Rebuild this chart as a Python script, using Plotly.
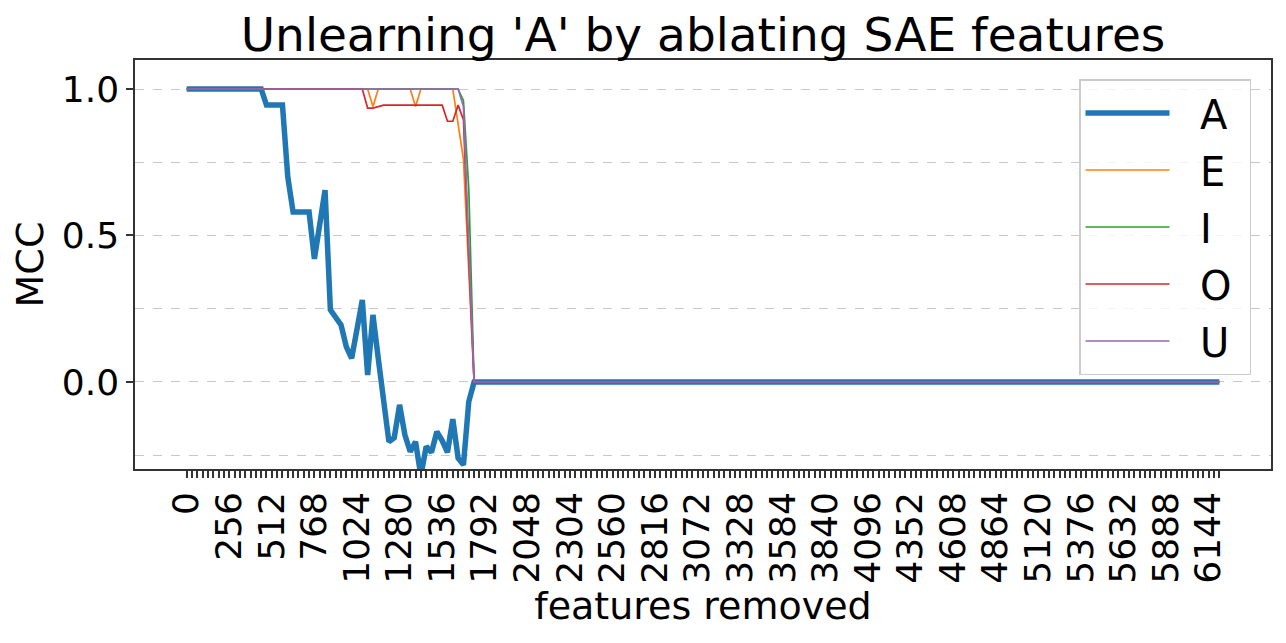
import plotly.graph_objects as go

# features removed (sampled every 32, last point is the end of the run)
features = [0, 32, 64, 96, 128, 160, 192, 224, 256, 288, 320, 352, 384, 416, 448,
            480, 512, 544, 576, 608, 640, 672, 704, 736, 768, 800, 832, 864, 896, 928,
            960, 992, 1024, 1056, 1088, 1120, 1152, 1184, 1216, 1248, 1280, 1312, 1344,
            1376, 1408, 1440, 1472, 1504, 1536, 1568, 1600, 1632, 1664, 1696, 1728, 6208]

mcc_a = [1.0, 1.0, 1.0, 1.0, 1.0, 1.0, 1.0, 1.0, 1.0, 1.0, 1.0, 1.0, 1.0, 1.0, 1.0,
         0.945, 0.945, 0.945, 0.945, 0.70, 0.58, 0.58, 0.58, 0.58, 0.42, 0.54, 0.655, 0.246, 0.22, 0.195,
         0.12, 0.081, 0.18, 0.28, 0.024, 0.229, 0.08, -0.065, -0.204, -0.19, -0.078, -0.18, -0.238,
         -0.204, -0.32, -0.22, -0.24, -0.17, -0.2, -0.24, -0.127, -0.26, -0.283, -0.067, 0.0, 0.0]

mcc_e = [1.0, 1.0, 1.0, 1.0, 1.0, 1.0, 1.0, 1.0, 1.0, 1.0, 1.0, 1.0, 1.0, 1.0, 1.0,
         1.0, 1.0, 1.0, 1.0, 1.0, 1.0, 1.0, 1.0, 1.0, 1.0, 1.0, 1.0, 1.0, 1.0, 1.0,
         1.0, 1.0, 1.0, 1.0, 1.0, 0.94, 1.0, 1.0, 1.0, 1.0, 1.0, 1.0, 1.0,
         0.94, 1.0, 1.0, 1.0, 1.0, 1.0, 1.0, 1.0, 0.88, 0.76, 0.38, 0.0, 0.0]

mcc_i = [1.0, 1.0, 1.0, 1.0, 1.0, 1.0, 1.0, 1.0, 1.0, 1.0, 1.0, 1.0, 1.0, 1.0, 1.0,
         1.0, 1.0, 1.0, 1.0, 1.0, 1.0, 1.0, 1.0, 1.0, 1.0, 1.0, 1.0, 1.0, 1.0, 1.0,
         1.0, 1.0, 1.0, 1.0, 1.0, 1.0, 1.0, 1.0, 1.0, 1.0, 1.0, 1.0, 1.0,
         1.0, 1.0, 1.0, 1.0, 1.0, 1.0, 1.0, 1.0, 1.0, 0.96, 0.66, 0.0, 0.0]

mcc_o = [1.0, 1.0, 1.0, 1.0, 1.0, 1.0, 1.0, 1.0, 1.0, 1.0, 1.0, 1.0, 1.0, 1.0, 1.0,
         1.0, 1.0, 1.0, 1.0, 1.0, 1.0, 1.0, 1.0, 1.0, 1.0, 1.0, 1.0, 1.0, 1.0, 1.0,
         1.0, 1.0, 1.0, 1.0, 0.935, 0.935, 0.94, 0.945, 0.945, 0.945, 0.945, 0.945, 0.945,
         0.945, 0.945, 0.945, 0.945, 0.945, 0.945, 0.89, 0.89, 0.945, 0.895, 0.42, 0.0, 0.0]

mcc_u = [1.0, 1.0, 1.0, 1.0, 1.0, 1.0, 1.0, 1.0, 1.0, 1.0, 1.0, 1.0, 1.0, 1.0, 1.0,
         1.0, 1.0, 1.0, 1.0, 1.0, 1.0, 1.0, 1.0, 1.0, 1.0, 1.0, 1.0, 1.0, 1.0, 1.0,
         1.0, 1.0, 1.0, 1.0, 1.0, 1.0, 1.0, 1.0, 1.0, 1.0, 1.0, 1.0, 1.0,
         1.0, 1.0, 1.0, 1.0, 1.0, 1.0, 1.0, 1.0, 1.0, 0.94, 0.48, 0.0, 0.0]

# x ticks: one every 32 features, labelled every 256
tick_step = 32
label_step = 256
x_max = 6208

y_ticks = [0.0, 0.5, 1.0]
y_labels = ["0.0", "0.5", "1.0"]
y_grid = [-0.25, 0.25, 0.75]

series = [
    ("A", mcc_a, "#1f77b4", 5.5),
    ("E", mcc_e, "#ff7f0e", 1.7),
    ("I", mcc_i, "#2ca02c", 1.7),
    ("O", mcc_o, "#d62728", 1.7),
    ("U", mcc_u, "#9467bd", 1.7),
]

font = "DejaVu Sans"
nb = "\u00a0"

fig = go.Figure()
for name, vals, color, width in series:
    fig.add_trace(go.Scatter(
        x=features,
        y=vals,
        mode="lines",
        name=nb * 2 + name + nb,
        legendgroup=name,
        line=dict(color=color, width=width),
    ))

tickvals = list(range(0, x_max + 1, tick_step))
ticktext = [str(v) if v % label_step == 0 else "" for v in tickvals]

# the page adds an 8px body margin, so the figure is a bit smaller than the window
fig.update_layout(
    width=1270,
    height=627,
    margin=dict(l=127, r=5, t=52, b=166),
    plot_bgcolor="white",
    paper_bgcolor="white",
    font=dict(family=font, size=36, color="black"),
    title=dict(text="Unlearning 'A' by ablating SAE features", xref="paper", x=0.5,
               xanchor="center", y=0.957, yanchor="middle", font=dict(size=47)),
    legend=dict(
        x=0.9824, y=0.9535, xanchor="right", yanchor="top",
        bgcolor="rgba(255,255,255,0.8)", bordercolor="#cccccc", borderwidth=1.5,
        font=dict(size=40), tracegroupgap=2, itemwidth=84,
    ),
)

fig.update_xaxes(
    range=[-0.05 * x_max, 1.05 * x_max],
    tickmode="array", tickvals=tickvals, ticktext=ticktext,
    tickangle=-90, ticks="outside", ticklen=7, tickwidth=1.5, tickcolor="#333333",
    tickfont=dict(size=36),
    showgrid=False, zeroline=False,
    showline=True, linecolor="#333333", linewidth=1.5, mirror=True,
    title=dict(text="features removed", font=dict(size=38), standoff=2),
)

fig.update_yaxes(
    range=[-0.297, 1.099],
    tickmode="array", tickvals=y_ticks, ticktext=y_labels,
    ticks="outside", ticklen=7, tickwidth=1.5, tickcolor="#333333",
    tickfont=dict(size=36),
    showgrid=True, gridcolor="#c8c8c8", gridwidth=0.8, griddash="dash",
    minor=dict(tickvals=y_grid, showgrid=True, gridcolor="#c8c8c8", gridwidth=0.8,
               griddash="dash", ticks=""),
    zeroline=False,
    showline=True, linecolor="#333333", linewidth=1.5, mirror=True,
    title=dict(text="MCC", font=dict(size=38), standoff=15),
)

fig.write_html("out.html")
